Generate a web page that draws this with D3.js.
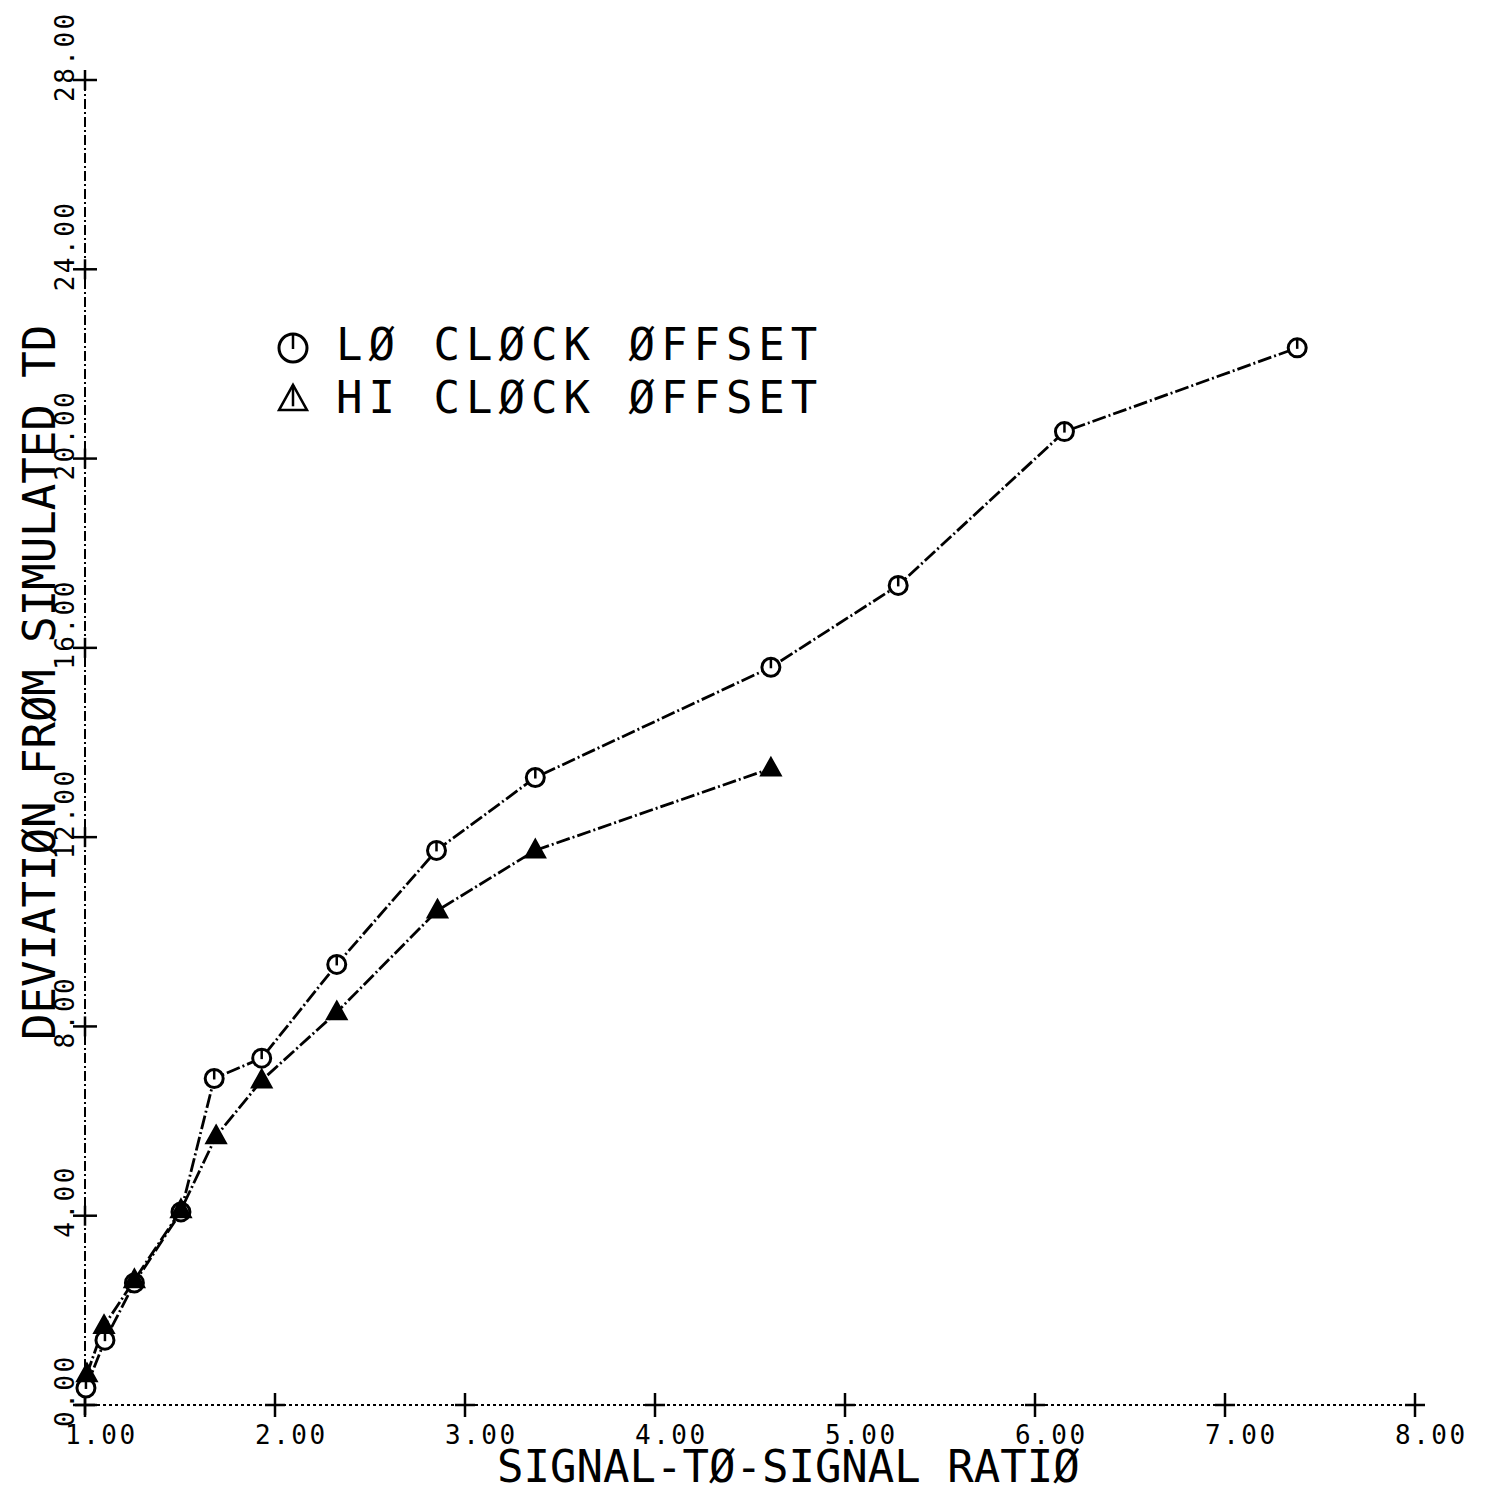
<!DOCTYPE html>
<html><head><meta charset="utf-8">
<script src="https://cdn.jsdelivr.net/npm/d3@7"></script>
<style>body{margin:0;background:#fff}svg{display:block}text{font-family:"DejaVu Sans Mono",monospace;fill:#000}</style>
</head><body>
<script>
const loX = [1.005, 1.105, 1.26, 1.505, 1.68, 1.93, 2.325, 2.85, 3.37, 4.61, 5.28, 6.155, 7.38];
const loY = [0.36, 1.37, 2.58, 4.08, 6.9, 7.33, 9.31, 11.72, 13.26, 15.59, 17.32, 20.57, 22.34];
const hiX = [1.01, 1.1, 1.26, 1.505, 1.69, 1.93, 2.325, 2.855, 3.37, 4.61];
const hiY = [0.65, 1.67, 2.64, 4.12, 5.68, 6.86, 8.3, 10.45, 11.72, 13.45];
const xTicks = [1, 2, 3, 4, 5, 6, 7, 8];
const yTicks = [0, 4, 8, 12, 16, 20, 24, 28];
const xTitle = "SIGNAL-TØ-SIGNAL RATIØ";
const yTitle = "DEVIATIØN FRØM SIMULATED TD";
const legendLabels = ["LØ CLØCK ØFFSET", "HI CLØCK ØFFSET"];

const W = 1489, H = 1495;
const svg = d3.select("body").append("svg").attr("width", W).attr("height", H);
const x = d3.scaleLinear().domain([1, 8]).range([85, 1415]);
const y = d3.scaleLinear().domain([0, 28]).range([1405, 80]);

// axes lines
svg.append("line").attr("x1", x(1)).attr("x2", x(8)).attr("y1", y(0)).attr("y2", y(0))
  .attr("stroke", "#000").attr("stroke-width", 2).attr("stroke-dasharray", "3,3");
svg.append("line").attr("x1", x(1)).attr("x2", x(1)).attr("y1", y(0)).attr("y2", y(28))
  .attr("stroke", "#000").attr("stroke-width", 2).attr("stroke-dasharray", "10,3,2,3");

// x ticks
const xt = svg.append("g");
xTicks.forEach(v => {
  xt.append("line").attr("x1", x(v)).attr("x2", x(v)).attr("y1", y(0) - 12).attr("y2", y(0) + 12)
    .attr("stroke", "#000").attr("stroke-width", 2.5);
  xt.append("line").attr("x1", x(v) - 10).attr("x2", x(v) + 10).attr("y1", y(0)).attr("y2", y(0))
    .attr("stroke", "#000").attr("stroke-width", 2.5);
  xt.append("text").attr("x", x(v) - 20).attr("y", 1444).attr("font-size", 26)
    .attr("letter-spacing", 2.5).text(v.toFixed(2));
});
// y ticks
const yt = svg.append("g");
yTicks.forEach(v => {
  yt.append("line").attr("x1", x(1) - 12).attr("x2", x(1) + 12).attr("y1", y(v)).attr("y2", y(v))
    .attr("stroke", "#000").attr("stroke-width", 2.5);
  yt.append("line").attr("x1", x(1)).attr("x2", x(1)).attr("y1", y(v) - 10).attr("y2", y(v) + 10)
    .attr("stroke", "#000").attr("stroke-width", 2.5);
  yt.append("text").attr("transform", `translate(74,${y(v) + 22}) rotate(-90)`)
    .attr("font-size", 26).attr("letter-spacing", 2.5).text(v.toFixed(2));
});

// titles
svg.append("text").attr("x", 497).attr("y", 1482).attr("font-size", 44).text(xTitle);
svg.append("text").attr("transform", "translate(55,1040) rotate(-90)").attr("font-size", 44).text(yTitle);

// lines
const line = d3.line().x(d => x(d[0])).y(d => y(d[1]));
const lo = loX.map((v, i) => [v, loY[i]]);
const hi = hiX.map((v, i) => [v, hiY[i]]);
svg.append("path").attr("d", line(lo)).attr("fill", "none").attr("stroke", "#000")
  .attr("stroke-width", 2.8).attr("stroke-dasharray", "14,3,2,3");
svg.append("path").attr("d", line(hi)).attr("fill", "none").attr("stroke", "#000")
  .attr("stroke-width", 2.8).attr("stroke-dasharray", "14,3,2,3");

function circleMark(g, cx, cy, r) {
  g.append("circle").attr("cx", cx).attr("cy", cy).attr("r", r)
    .attr("fill", "#fff").attr("stroke", "#000").attr("stroke-width", 3);
  g.append("line").attr("x1", cx).attr("x2", cx).attr("y1", cy - r).attr("y2", cy + 1)
    .attr("stroke", "#000").attr("stroke-width", 2.5);
}
function triMark(g, cx, cy, s, filled) {
  const h = s * 0.9;
  g.append("path").attr("d", `M${cx},${cy - h * 0.6}L${cx + s / 2},${cy + h * 0.4}L${cx - s / 2},${cy + h * 0.4}Z`)
    .attr("fill", filled ? "#000" : "#fff").attr("stroke", "#000").attr("stroke-width", 2.5);
  if (!filled) g.append("line").attr("x1", cx).attr("x2", cx).attr("y1", cy - h * 0.6).attr("y2", cy + h * 0.25)
    .attr("stroke", "#000").attr("stroke-width", 2.5);
}

const mk = svg.append("g");
lo.forEach(d => circleMark(mk, x(d[0]), y(d[1]), 9));
hi.forEach(d => triMark(mk, x(d[0]), y(d[1]), 19, true));

// legend
const lg = svg.append("g");
circleMark(lg, 293, 348, 14);
triMark(lg, 293, 400, 28, false);
lg.append("text").attr("x", 336).attr("y", 360).attr("font-size", 44).attr("letter-spacing", 6).text(legendLabels[0]);
lg.append("text").attr("x", 336).attr("y", 413).attr("font-size", 44).attr("letter-spacing", 6).text(legendLabels[1]);
</script>
</body></html>
